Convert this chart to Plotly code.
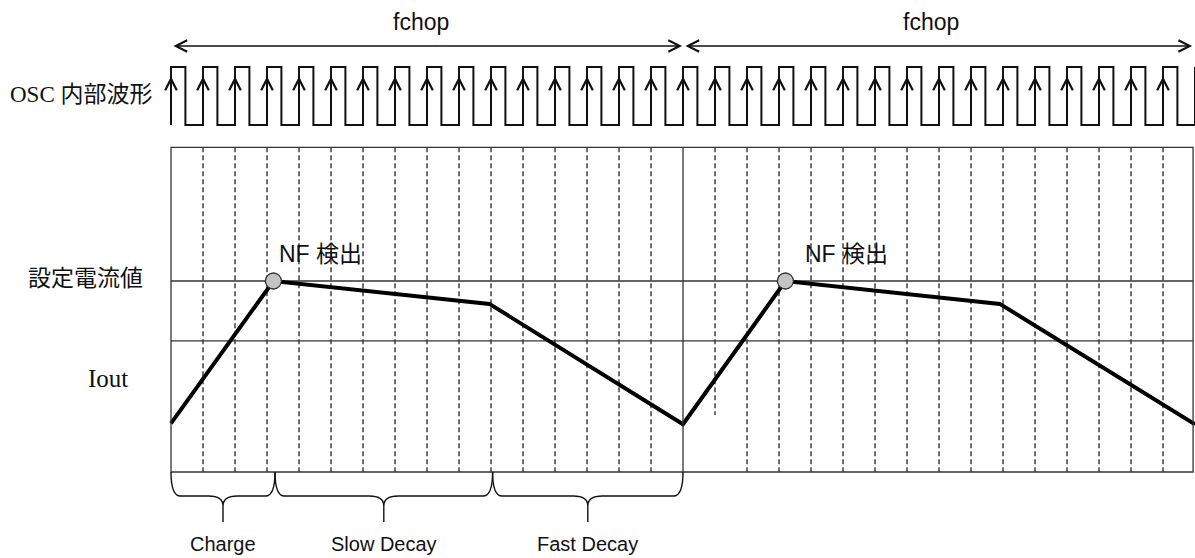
import plotly.graph_objects as go

# time axis in OSC clock periods, one fchop period = 16 OSC periods
osc_rise = [0, 1, 2, 3, 4, 5, 6, 7, 8, 9, 10, 11, 12, 13, 14, 15,
            16, 17, 18, 19, 20, 21, 22, 23, 24, 25, 26, 27, 28, 29, 30, 31]
osc_high = 0.45
chop_edges = [0, 16, 31.94]
chop_label_t = [7.8, 23.75]

# Iout, normalised to the set current (設定電流値 = 1.0)
iout_t = [0, 3.2, 9.95, 16, 19.2, 25.9, 32]
iout_val = [0.255, 1.0, 0.88, 0.25, 1.0, 0.88, 0.25]
nf_t = [3.2, 19.2]
nf_val = [1.0, 1.0]
nf_label_t = [3.31, 19.75]
ref_levels = [1.0, 0.686]
box_top = 1.70

phase_names = ["Charge", "Slow Decay", "Fast Decay"]
phase_bounds = [0, 3.25, 10.05, 16]

INK = "#111111"
SANS = "Liberation Sans, Arial, Noto Sans CJK JP"
SERIF = "Liberation Serif, Noto Sans CJK JP"

fig = go.Figure()

# OSC internal clock
wx, wy = [], []
for r in osc_rise:
    wx += [r, r, r + osc_high, r + osc_high]
    wy += [0, 1, 1, 0]
wx += [32, 32]
wy += [0, 1]
fig.add_trace(go.Scatter(x=wx, y=wy, yaxis="y2", mode="lines",
                         line=dict(color=INK, width=2), hoverinfo="skip"))

# output current
fig.add_trace(go.Scatter(x=iout_t, y=iout_val, mode="lines",
                         line=dict(color="black", width=4), hoverinfo="skip"))
fig.add_trace(go.Scatter(x=nf_t, y=nf_val, mode="markers",
                         marker=dict(size=16, color="#c4c4c4",
                                     line=dict(color="#333333", width=1.3)),
                         hoverinfo="skip"))

shapes = []
# dashed lines at every OSC rising edge inside the chop periods
for r in osc_rise:
    if r in chop_edges:
        continue
    y_end = 0.298 if r == 17 else 0
    shapes.append(dict(type="line", xref="x", yref="y", x0=r, x1=r, y0=box_top, y1=y_end,
                       line=dict(color=INK, width=1.2, dash="5px,3px"), layer="below"))
# frame
shapes.append(dict(type="rect", xref="x", yref="y", x0=chop_edges[0], x1=chop_edges[-1],
                   y0=0, y1=box_top, line=dict(color="#333333", width=1.3)))
shapes.append(dict(type="line", xref="x", yref="y", x0=chop_edges[1], x1=chop_edges[1],
                   y0=0, y1=box_top, line=dict(color="#333333", width=1.3)))
for lv in ref_levels:
    shapes.append(dict(type="line", xref="x", yref="y", x0=chop_edges[0], x1=chop_edges[-1],
                       y0=lv, y1=lv, line=dict(color="#333333", width=1.3), layer="below"))


def brace(x0, x1, y0=0.0, yh=-0.126, yc=-0.178, ytip=-0.262, r=0.3, r2=0.45):
    xc = (x0 + x1) / 2
    return (f"M{x0},{y0} Q{x0},{yh} {x0 + r},{yh} L{xc - r2},{yh} Q{xc},{yh} {xc},{yc} "
            f"L{xc},{ytip} M{xc},{yc} Q{xc},{yh} {xc + r2},{yh} L{x1 - r},{yh} "
            f"Q{x1},{yh} {x1},{y0}")


annotations = []
for i, name in enumerate(phase_names):
    a, b = phase_bounds[i], phase_bounds[i + 1]
    shapes.append(dict(type="path", xref="x", yref="y", path=brace(a, b),
                       line=dict(color=INK, width=1.4)))
    annotations.append(dict(x=(a + b) / 2, y=-0.377, xref="x", yref="y", text=name,
                            showarrow=False, borderpad=0,
                            font=dict(family=SANS, size=20, color=INK)))

# arrows on OSC rising edges
for r in osc_rise:
    annotations.append(dict(x=r, y=0.84, xref="x", yref="y2", ax=r, ay=0.2,
                            axref="x", ayref="y2", text="", showarrow=True,
                            arrowhead=5, arrowsize=1.9, arrowwidth=1.2, arrowcolor=INK))

# fchop arrows and labels
for i in range(2):
    annotations.append(dict(x=chop_edges[i + 1] - 0.03, y=1.362, xref="x", yref="y2",
                            ax=chop_edges[i] + 0.03, ay=1.362, axref="x", ayref="y2",
                            text="", showarrow=True, arrowside="end+start",
                            arrowhead=5, startarrowhead=5, arrowsize=1.7,
                            startarrowsize=1.7, arrowwidth=1.3, arrowcolor=INK))
    annotations.append(dict(x=chop_label_t[i], y=1.776, xref="x", yref="y2", text="fchop",
                            showarrow=False, font=dict(family=SANS, size=23, color=INK)))

for t in nf_label_t:
    annotations.append(dict(x=t, y=1.141, xref="x", yref="y", text="NF 検出",
                            xanchor="left", showarrow=False,
                            font=dict(family=SANS, size=23, color=INK)))

annotations.append(dict(x=-0.5, y=0.53, xref="x", yref="y2", text="OSC 内部波形",
                        xanchor="right", showarrow=False,
                        font=dict(family=SERIF, size=23, color=INK)))
annotations.append(dict(x=-2.66, y=1.026, xref="x", yref="y", text="設定電流値",
                        showarrow=False,
                        font=dict(family="Noto Sans CJK JP", size=23, color=INK)))
annotations.append(dict(x=-1.97, y=0.49, xref="x", yref="y", text="Iout",
                        showarrow=False,
                        font=dict(family="Liberation Serif", size=25, color=INK)))

# ranges chosen so that pixel = 171 + 32 t, and Iout 0 / 1 sit at pixel y 472 / 281
fig.update_layout(
    width=1195, height=558,
    margin=dict(l=0, r=0, t=0, b=0),
    paper_bgcolor="white", plot_bgcolor="white",
    showlegend=False,
    xaxis=dict(range=[-171 / 32, (1195 - 171) / 32], visible=False),
    yaxis=dict(range=[(472 - 558) / 191, 472 / 191], visible=False),
    yaxis2=dict(range=[(125 - 558) / 58, 125 / 58], overlaying="y", visible=False),
    shapes=shapes,
    annotations=annotations,
)

# drop the default body margin so the 1195x558 figure fills the window exactly
fig.write_html("out.html", config={"displayModeBar": False},
               post_script="document.body.style.margin='0';document.body.style.overflow='hidden';")
